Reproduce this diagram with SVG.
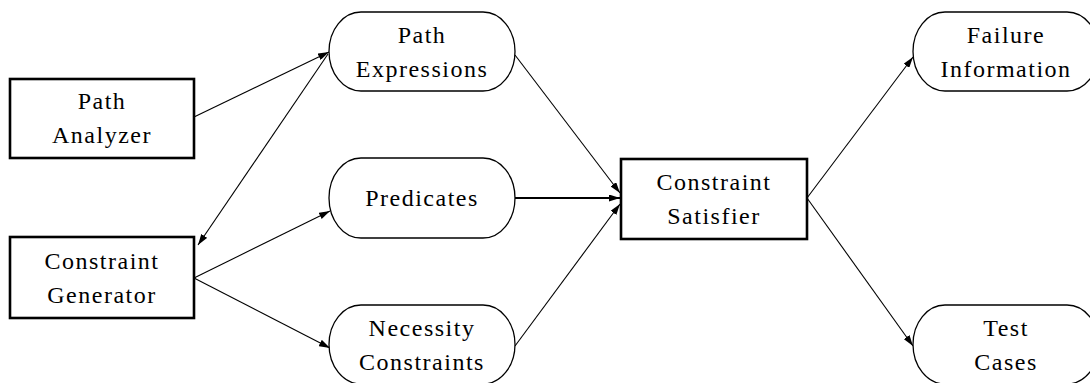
<svg xmlns="http://www.w3.org/2000/svg" width="1090" height="383" viewBox="0 0 1090 383">
<style>
.box{fill:#fff;stroke:#000;stroke-width:2.6}
.pill{fill:#fff;stroke:#000;stroke-width:1.3}
.t{font-family:'Liberation Serif','DejaVu Serif','Noto Serif',serif;font-size:24px;letter-spacing:1.5px;text-anchor:middle;fill:#000}
.c{stroke:#000;stroke-width:1.1;fill:none;marker-end:url(#ah)}
</style>
<defs>
<marker id="ah" viewBox="0 0 11 7" refX="11" refY="3.5" markerWidth="11" markerHeight="7" markerUnits="userSpaceOnUse" orient="auto">
<path d="M0,0 L11,3.5 L0,7 Z" fill="#000"/>
</marker>
</defs>
<rect width="1090" height="383" fill="#fff"/>
<g id="connectors">
<line class="c" x1="194" y1="117" x2="329" y2="52"/>
<line class="c" x1="328" y1="54" x2="198" y2="245"/>
<line class="c" x1="194" y1="278" x2="330" y2="211"/>
<line class="c" x1="194" y1="278" x2="330" y2="348"/>
<line class="c" x1="515" y1="55" x2="620" y2="193"/>
<line class="c" x1="515" y1="198" x2="620" y2="198" style="stroke-width:2"/>
<line class="c" x1="515" y1="346" x2="620" y2="204"/>
<line class="c" x1="807" y1="198" x2="913" y2="57"/>
<line class="c" x1="807" y1="198" x2="913" y2="346"/>
</g>
<g id="path-analyzer">
<rect class="box" x="10" y="79" width="184" height="79"/>
<text class="t" x="102" y="109" font-family="Liberation Serif, serif">Path</text>
<text class="t" x="102" y="143" font-family="Liberation Serif, serif">Analyzer</text>
</g>
<g id="constraint-generator">
<rect class="box" x="10" y="237" width="184" height="81"/>
<text class="t" x="102" y="269">Constraint</text>
<text class="t" x="102" y="303">Generator</text>
</g>
<g id="path-expressions">
<path class="pill" d="M361,12 H483 A32,39.5 0 0 1 483,91 H361 A32,39.5 0 0 1 361,12 Z"/>
<text class="t" x="422" y="43">Path</text>
<text class="t" x="422" y="77">Expressions</text>
</g>
<g id="predicates">
<path class="pill" d="M361,158 H483 A32,40 0 0 1 483,238 H361 A32,40 0 0 1 361,158 Z"/>
<text class="t" x="422" y="206">Predicates</text>
</g>
<g id="necessity-constraints">
<path class="pill" d="M361,305 H483 A32,39.5 0 0 1 483,384 H361 A32,39.5 0 0 1 361,305 Z"/>
<text class="t" x="422" y="336">Necessity</text>
<text class="t" x="422" y="370">Constraints</text>
</g>
<g id="constraint-satisfier">
<rect class="box" x="621" y="159" width="186" height="80"/>
<text class="t" x="714" y="190">Constraint</text>
<text class="t" x="714" y="224">Satisfier</text>
</g>
<g id="failure-information">
<path class="pill" d="M945,12 H1067 A32,39.5 0 0 1 1067,91 H945 A32,39.5 0 0 1 945,12 Z"/>
<text class="t" x="1006" y="43">Failure</text>
<text class="t" x="1006" y="77">Information</text>
</g>
<g id="test-cases">
<path class="pill" d="M945,305 H1067 A32,39.5 0 0 1 1067,384 H945 A32,39.5 0 0 1 945,305 Z"/>
<text class="t" x="1006" y="336">Test</text>
<text class="t" x="1006" y="370">Cases</text>
</g>
</svg>
